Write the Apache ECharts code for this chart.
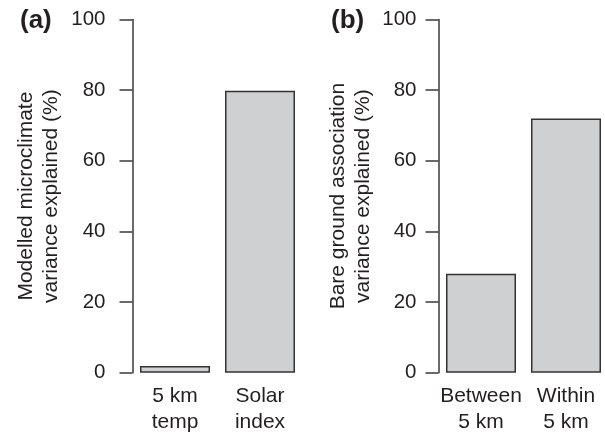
<!DOCTYPE html>
<html>
<head>
<meta charset="utf-8">
<script src="https://cdn.jsdelivr.net/npm/echarts@6/dist/echarts.min.js"></script>
<style>
html,body{margin:0;padding:0;background:#fff;}
#chart{width:605px;height:435px;}
</style>
</head>
<body>
<div id="chart"></div>
<script>
// Data
var categoriesA = ['5 km\ntemp', 'Solar\nindex'];
var valuesA = [1.9, 79.8];
var categoriesB = ['Between\n5 km', 'Within\n5 km'];
var valuesB = [28, 72];
var yTitleA = 'Modelled microclimate\nvariance explained (%)';
var yTitleB = 'Bare ground association\nvariance explained (%)';
var panelLabels = ['(a)', '(b)'];

var FONT = '"Liberation Sans", Arial, Helvetica, sans-serif';
var TEXT = '#231f20';
var AXIS = '#3a3a3a';
var FILL = '#cfd0d2';

function xAx(idx, cats) {
  return {
    type: 'category', gridIndex: idx, data: cats,
    axisLine: {show: false}, axisTick: {show: false},
    axisLabel: {interval: 0, margin: 11, fontSize: 21, lineHeight: 26, color: TEXT, fontFamily: FONT}
  };
}
function yAx(idx, name, labelMargin, nameGap) {
  return {
    type: 'value', gridIndex: idx, min: 0, max: 100, interval: 20,
    name: name, nameLocation: 'middle', nameRotate: 90, nameGap: nameGap, nameMoveOverlap: false,
    nameTextStyle: {fontSize: 21, lineHeight: 25, color: TEXT, fontFamily: FONT},
    axisLine: {show: true, lineStyle: {color: AXIS, width: 1.5}},
    axisTick: {show: true, length: 13, lineStyle: {color: AXIS, width: 1.5}},
    axisLabel: {margin: labelMargin, fontSize: 20.5, color: TEXT, fontFamily: FONT},
    splitLine: {show: false}
  };
}
function bar(idx, vals) {
  return {
    type: 'bar', xAxisIndex: idx, yAxisIndex: idx, data: vals, barWidth: 70,
    itemStyle: {color: FILL, borderColor: '#333', borderWidth: 1.5},
    silent: true, animation: false
  };
}

var chart = echarts.init(document.getElementById('chart'), null, {renderer: 'canvas'});
chart.setOption({
  animation: false,
  backgroundColor: '#fff',
  textStyle: {fontFamily: FONT},
  grid: [
    {left: 132.5, top: 19.5, width: 170, height: 353.2, outerBoundsMode: 'none', containLabel: false},
    {left: 438.5, top: 19.5, width: 170, height: 353.2, outerBoundsMode: 'none', containLabel: false}
  ],
  xAxis: [xAx(0, categoriesA), xAx(1, categoriesB)],
  yAxis: [yAx(0, yTitleA, 27, 69), yAx(1, yTitleB, 22, 63)],
  series: [bar(0, valuesA), bar(1, valuesB)],
  graphic: [
    {type: 'text', left: 20, top: 8, style: {text: panelLabels[0], fontSize: 26, fontWeight: 'bold', fill: TEXT, fontFamily: FONT}},
    {type: 'text', left: 331, top: 8, style: {text: panelLabels[1], fontSize: 26, fontWeight: 'bold', fill: TEXT, fontFamily: FONT}}
  ]
});
</script>
</body>
</html>
